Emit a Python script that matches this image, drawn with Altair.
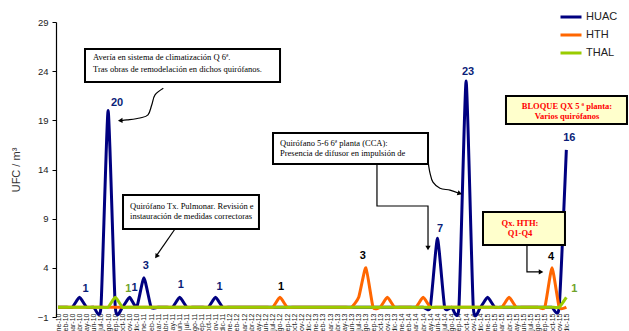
import altair as alt
import pandas as pd

# ---------------- data ----------------
month_names = ["ene", "feb", "mar", "abr", "may", "jun", "jul", "ago", "sep", "oct", "nov", "dic"]
years = ["10", "11", "12", "13", "14", "15"]
month_labels = [f"{m}-{y}" for y in years for m in month_names]

huac = [0, 0, 0, 1, 0, 0, 0, 20, 0, 0, 1, 0,
        3, 0, 0, 0, 0, 1, 0, 0, 0, 0, 1, 0,
        0, 0, 0, 0, 0, 0, 0, 0, 0, 0, 0, 0,
        0, 0, 0, 0, 0, 0, 0, 0, 0, 0, 0, 0,
        0, 0, 0, 0, 0, 7, 0, 0, 0, 23, 0, 0,
        1, 0, 0, 0, 0, 0, 0, 0, 0, 0, 0, 16]
hth = [0, 0, 0, 0, 0, 0, 0, 0, 0, 0, 0, 0,
       0, 0, 0, 0, 0, 0, 0, 0, 0, 0, 0, 0,
       0, 0, 0, 0, 0, 0, 0, 1, 0, 0, 0, 0,
       0, 0, 0, 0, 0, 0, 1, 4, 0, 0, 1, 0,
       0, 0, 0, 1, 0, 0, 0, 0, 0, 0, 0, 0,
       0, 0, 0, 1, 0, 0, 0, 0, 0, 4, 0, 0]
thal = [0, 0, 0, 0, 0, 0, 0, 0, 1, 0, 0, 0,
        0, 0, 0, 0, 0, 0, 0, 0, 0, 0, 0, 0,
        0, 0, 0, 0, 0, 0, 0, 0, 0, 0, 0, 0,
        0, 0, 0, 0, 0, 0, 0, 0, 0, 0, 0, 0,
        0, 0, 0, 0, 0, 0, 0, 0, 0, 0, 0, 0,
        0, 0, 0, 0, 0, 0, 0, 0, 0, 0, 0, 1]
series_names = ["HUAC", "HTH", "THAL"]
series_colors = ["#000080", "#FF6600", "#99CC00"]

# value labels: (series, month index, text)
label_series = ["HUAC", "HUAC", "HUAC", "HUAC", "HUAC", "HUAC", "HUAC", "HUAC", "HUAC",
                "HTH", "HTH", "HTH", "THAL", "THAL"]
label_month = [3, 7, 10, 12, 17, 22, 53, 57, 71, 31, 43, 69, 8, 71]
label_text = ["1", "20", "1", "3", "1", "1", "7", "23", "16", "1", "3", "4", "1", "1"]
label_colors = {"HUAC": "#0A1E78", "HTH": "#000000", "THAL": "#6FA32A"}
label_nudge_px = [(6, -8), (9, -8), (5, -9), (2, -12), (1, -12), (4, -10), (2.5, -9), (2, -9),
                  (3, -12), (1, -10), (-3, -12), (-1, -11), (13, -8), (8, -8)]

# annotation boxes in data units (month index, UFC value)
box_x1 = [3.77, 30.03, 9.08, 62.57, 59.36]
box_x2 = [31.01, 51.68, 28.07, 79.47, 70.81]
box_y1 = [26.26, 17.71, 11.41, 21.48, 9.68]
box_y2 = [22.91, 14.57, 7.95, 18.63, 6.32]
box_fill = ["white", "white", "white", "#FFFFCC", "#FFFFCC"]

note_text = ["Avería en sistema de climatización Q 6ª.",
             "Tras obras de remodelación en dichos quirófanos.",
             "Quirófano 5-6 6ª planta (CCA):",
             "Presencia de difusor en impulsión de",
             "Quirófano Tx. Pulmonar. Revisión e",
             "instauración de medidas correctoras"]
note_x = [4.89, 4.89, 31.01, 31.01, 10.06, 10.06]
note_y = [25.45, 24.23, 16.70, 15.68, 10.29, 9.27]

red_text = ["BLOQUE QX 5 ª planta:", "Varios quirófanos", "Qx. HTH:", "Q1-Q4"]
red_x = [71.09, 71.09, 64.53, 64.53]
red_y = [20.46, 19.44, 8.56, 7.55]

# arrows (path id, month index, value)
arrow_id = ["a1"] * 7 + ["a2"] * 2 + ["a3"] * 4 + ["a4"] * 6 + ["a5"] * 3
arrow_x = [14.71, 13.55, 13.09, 12.57, 11.45, 9.64, 8.90,
           16.34, 13.83,
           44.55, 44.55, 51.68, 51.68,
           51.72, 51.96, 52.37, 53.35, 54.75, 56.01,
           65.50, 65.50, 67.32]
arrow_y = [22.26, 21.58, 20.56, 19.55, 19.24, 19.04, 18.98,
           7.95, 5.31,
           14.57, 10.29, 10.29, 6.12,
           14.65, 13.63, 12.71, 12.10, 11.90, 11.59,
           6.32, 3.58, 3.58]
arrow_curved = {"a1": True, "a2": False, "a3": False, "a4": True, "a5": False}
head_x = [8.80, 13.81, 51.68, 56.02, 67.36]
head_y = [18.98, 5.23, 6.09, 11.58, 3.58]
head_angle = [268, 215, 180, 109, 90]

# ---------------- tables ----------------
rows = []
for name, vals in zip(series_names, [huac, hth, thal]):
    for i, v in enumerate(vals):
        rows.append({"series": name, "m": i, "v": v, "k": series_names.index(name)})
df = pd.DataFrame(rows)

vals_by = dict(zip(series_names, [huac, hth, thal]))
PX_X = 518 / 72.35
lab = pd.DataFrame({
    "series": label_series,
    "text": label_text,
    "m": [m + dx / PX_X for m, (dx, dy) in zip(label_month, label_nudge_px)],
    "v": [vals_by[s][m] for s, m in zip(label_series, label_month)],
    "dy": [dy for dx, dy in label_nudge_px],
})
lab["col"] = lab["series"].map(label_colors)

xs = alt.Scale(domain=[-0.28, 72.07], nice=False, zero=False)
ys = alt.Scale(domain=[-1, 29], nice=False, zero=False)

label_js = "[" + ",".join(f"'{l}'" for l in month_labels) + "]"

x_axis = alt.Axis(values=list(range(72)), labelExpr=f"{label_js}[datum.value]",
                  labelAngle=270, labelFontSize=7, labelFont="Liberation Sans",
                  labelColor="#222222", domain=False, ticks=False, grid=False,
                  labelPadding=0, offset=-4, title=None, labelOverlap=False)
y_axis = alt.Axis(values=[-1, 4, 9, 14, 19, 24, 29], title="UFC / m³",
                  titleFont="Liberation Sans", titleFontSize=11, titleFontWeight="normal",
                  titleColor="#333333", titlePadding=16,
                  labelFont="Liberation Sans", labelFontSize=9.5, labelColor="#222222",
                  domainColor="black", domainWidth=1.2, tickColor="black", tickSize=4,
                  grid=False, labelPadding=4)


def X(field):
    return alt.X(field, scale=xs, axis=x_axis)


def Y(field):
    return alt.Y(field, scale=ys, axis=y_axis)


lines = alt.Chart(df).mark_line(interpolate="cardinal", tension=0.5, strokeWidth=3).encode(
    x=X("m:Q"),
    y=Y("v:Q"),
    color=alt.Color("series:N", scale=alt.Scale(domain=series_names, range=series_colors),
                    sort=series_names,
                    legend=alt.Legend(orient="none", legendX=503, legendY=-12, title=None,
                                      symbolType="stroke", symbolStrokeWidth=3, symbolSize=441,
                                      clipHeight=14, rowPadding=4, padding=0, labelOffset=3,
                                      labelFont="Liberation Sans", labelFontSize=11,
                                      labelColor="#222222")),
    order=alt.Order("k:Q"),
    detail="series:N",
)

vlabels = []
for dyv in sorted(set(lab["dy"])):
    sub = lab[lab["dy"] == dyv]
    vlabels.append(alt.Chart(sub).mark_text(font="Liberation Sans", fontSize=11, fontWeight="bold",
                                            baseline="middle", dy=dyv).encode(
        x=X("m:Q"),
        y=Y("v:Q"),
        text="text:N",
        fill=alt.Fill("col:N", scale=None),
    ))

boxes = pd.DataFrame({"m": box_x1, "m2": box_x2, "v": box_y1, "v2": box_y2, "fill": box_fill})
rects = alt.Chart(boxes).mark_rect(stroke="black", strokeWidth=2).encode(
    x=X("m:Q"), x2="m2:Q",
    y=Y("v:Q"), y2="v2:Q",
    fill=alt.Fill("fill:N", scale=None),
)

notes = alt.Chart(pd.DataFrame({"t": note_text, "m": note_x, "v": note_y})).mark_text(
    font="Liberation Serif", fontSize=8.5, align="left", baseline="middle", color="black").encode(
    x=X("m:Q"), y=Y("v:Q"), text="t:N")

reds = alt.Chart(pd.DataFrame({"t": red_text, "m": red_x, "v": red_y})).mark_text(
    font="Liberation Serif", fontSize=8.5, fontWeight="bold", align="center", baseline="middle",
    color="#FF0000").encode(
    x=X("m:Q"), y=Y("v:Q"), text="t:N")

arr = pd.DataFrame({"id": arrow_id, "m": arrow_x, "v": arrow_y})
arr["o"] = range(len(arr))
arr["curved"] = arr["id"].map(arrow_curved)
arrow_layers = []
for curved, interp in [(True, "cardinal"), (False, "linear")]:
    arrow_layers.append(alt.Chart(arr[arr["curved"] == curved]).mark_line(
        interpolate=interp, color="black", strokeWidth=1.2).encode(
        x=X("m:Q"), y=Y("v:Q"),
        detail="id:N", order="o:Q"))

heads = alt.Chart(pd.DataFrame({"m": head_x, "v": head_y, "a": head_angle})).mark_point(
    shape="triangle", filled=True, size=28, color="black", opacity=1).encode(
    x=X("m:Q"), y=Y("v:Q"),
    angle=alt.Angle("a:Q", scale=None))

chart = alt.layer(lines, *vlabels, rects, notes, reds, *arrow_layers, heads).properties(
    width=518, height=295,
    autosize=alt.AutoSizeParams(type="none"),
    padding={"left": 56, "top": 22, "right": 55, "bottom": 14},
    background="white",
).configure_view(stroke=None)

chart.save("out.html", embed_options={"renderer": "svg", "actions": False})
